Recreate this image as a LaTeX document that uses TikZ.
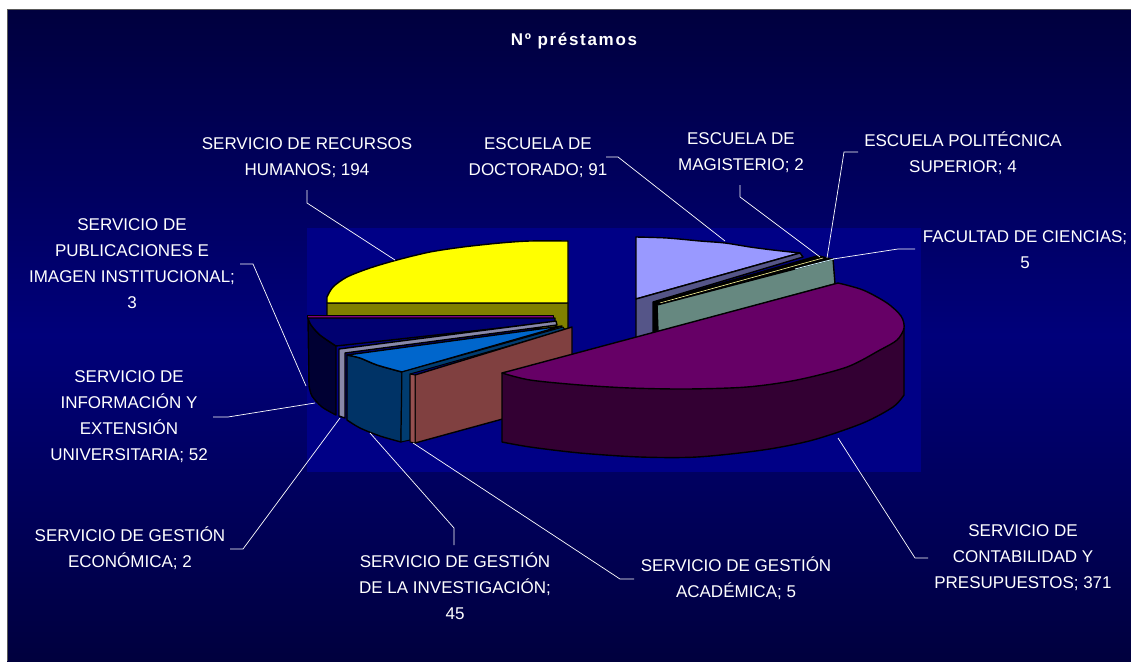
\documentclass[tikz,border=0pt]{standalone}
\usepackage{fontspec}
\setmainfont{Liberation Sans}
\newfontfamily\titlefont[LetterSpace=10]{Liberation Sans}

\definecolor{panelTop}{RGB}{0,0,62}
\definecolor{panelMid}{RGB}{0,0,122}
\definecolor{plotBg}{RGB}{0,0,134}
\definecolor{yelTop}{RGB}{255,255,0}
\definecolor{yelSide}{RGB}{128,128,0}
\definecolor{pubCol}{RGB}{128,0,128}
\definecolor{infTop}{RGB}{0,0,112}
\definecolor{infSide}{RGB}{0,0,51}
\definecolor{ecoCol}{RGB}{136,136,170}
\definecolor{invTop}{RGB}{0,102,204}
\definecolor{invSide}{RGB}{0,51,102}
\definecolor{invCut}{RGB}{0,60,112}
\definecolor{acaCol}{RGB}{128,64,64}
\definecolor{acaEdge}{RGB}{150,80,80}
\definecolor{conTop}{RGB}{102,0,102}
\definecolor{conSide}{RGB}{51,0,51}
\definecolor{docTop}{RGB}{153,153,255}
\definecolor{docCut}{RGB}{85,85,136}
\definecolor{cieCol}{RGB}{102,136,128}

\tikzset{
  lbl/.style={text=white, align=center, inner sep=0pt, font=\fontsize{17}{26}\selectfont},
  leader/.style={draw=white, line width=0.7pt},
  face/.style={draw=black, line width=1.4pt, line join=round},
}

\begin{document}
\begin{tikzpicture}[x=1pt,y=-1pt]
\useasboundingbox (0,0) rectangle (1131,661);
% background
\fill[white] (0,0) rectangle (1131,661);
\shade[top color=panelTop, bottom color=panelTop, middle color=panelMid] (7,10) rectangle (1131,661);
\draw[gray!70!black, line width=1pt] (7,661) -- (7,10) -- (1131,10);
\fill[plotBg] (307,228) rectangle (921,472);

\node[text=white, inner sep=0pt, font=\titlefont\bfseries\fontsize{17}{20}\selectfont] (title) at (574,41) {Nº préstamos};

% back slices
\draw[face, fill=yelSide] (327,303) -- (568,303) -- (568,330) -- (327,318) -- cycle;
\draw[face, fill=yelTop] (327,303) -- plot[smooth] coordinates {(327,297) (333,287) (347,277) (370,268) (397,260) (430,252) (463,247) (500,243) (530,241) (568,241)} -- (568,303) -- cycle;

\draw[face, fill=docTop] (636,299) -- (636,237) -- plot[smooth] coordinates {(636,237) (667,238) (700,241) (725,243) (750,247) (773,250) (800,253)} -- cycle;
\draw[face, fill=docCut] (636,299) -- (800,253) -- (803,257) -- (653,302) -- (653,340) -- (636,340) -- cycle;
\fill[black] (653,302) -- (818,255) -- (834,259) -- (657,305) -- (657,340) -- (653,340) -- cycle;
\draw[yellow!40, line width=0.6pt] (660,303) -- (823,258);
\draw[face, fill=cieCol] (657,305) -- (833,259) -- (835,284) -- (658,332) -- cycle;
\draw[cyan!20, line width=0.8pt] (795,269) -- (834,259);

% left group
\draw[face, line width=1pt, fill=pubCol] (307,315) -- (553,315) -- (553,318) -- (307,318) -- cycle;
\draw[face, fill=infSide] (308,318) -- (309,386) -- plot[smooth] coordinates {(309,386) (312,396) (322,407) (336,415)} -- (336,346) -- plot[smooth] coordinates {(336,346) (320,335) (311,325) (308,318)} -- cycle;
\draw[face, fill=infTop] (308,318) -- (555,318) -- (555,322) -- (336,346) -- plot[smooth] coordinates {(336,346) (320,335) (311,325) (308,318)} -- cycle;
\draw[face, fill=ecoCol] (339,349) -- (556,321) -- (557,325) -- (345,353) -- (345,418) -- (339,416) -- cycle;
\draw[face, fill=invSide] (347,355) -- (347,420) -- plot[smooth] coordinates {(347,420) (360,428) (380,436) (401,442)} -- (402,372) -- plot[smooth] coordinates {(402,372) (377,365) (360,358) (347,355)} -- cycle;
\draw[face, fill=invTop] (347,355) -- (562,326) -- (402,372) -- plot[smooth] coordinates {(402,372) (377,365) (360,358) (347,355)} -- cycle;
\draw[face, line width=1pt, fill=invCut] (402,372) -- (563,327) -- (565,330) -- (410,374) -- (410,440) -- (401,442) -- cycle;
\draw[face, fill=acaCol] (415,375) -- (572,327) -- (572,400) -- (415,443) -- cycle;
\draw[face, line width=1pt, fill=acaEdge] (410,374) -- (415,375) -- (415,443) -- (410,442) -- cycle;

% front slice
\draw[face, fill=conSide] (502,373) -- (502,442) -- plot[smooth] coordinates {(502,442) (530,447) (580,453) (640,457) (697,457) (763,450) (813,440) (863,423) (893,407) (904,395)} -- (904,328) -- cycle;
\draw[face, fill=conTop] (502,373) -- plot[smooth] coordinates {(838,283) (863,290) (887,303) (901,316) (904,328) (897,340) (880,350) (847,367) (797,380) (747,387) (687,389) (630,388) (580,385) (530,380) (502,373)} -- cycle;

% labels
\node[lbl] (hum) at (307,158) {SERVICIO DE RECURSOS\\HUMANOS; 194};
\node[lbl] (doc) at (538,158) {ESCUELA DE\\DOCTORADO; 91};
\node[lbl] (mag) at (741,153) {ESCUELA DE\\MAGISTERIO; 2};
\node[lbl] (pol) at (963,153) {ESCUELA POLITÉCNICA\\SUPERIOR; 4};
\node[lbl] (cie) at (1025,250) {FACULTAD DE CIENCIAS;\\5};
\node[lbl] (pub) at (132,264) {SERVICIO DE\\PUBLICACIONES E\\IMAGEN INSTITUCIONAL;\\3};
\node[lbl] (inf) at (129,417) {SERVICIO DE\\INFORMACIÓN Y\\EXTENSIÓN\\UNIVERSITARIA; 52};
\node[lbl] (eco) at (130,548) {SERVICIO DE GESTIÓN\\ECONÓMICA; 2};
\node[lbl] (inv) at (455,586) {SERVICIO DE GESTIÓN\\DE LA INVESTIGACIÓN;\\45};
\node[lbl] (aca) at (736,578) {SERVICIO DE GESTIÓN\\ACADÉMICA; 5};
\node[lbl] (con) at (1023,558) {SERVICIO DE\\CONTABILIDAD Y\\PRESUPUESTOS; 371};

% leader lines
\coordinate (hum-s) at (307,190); \coordinate (hum-k) at (307,203); \coordinate (hum-e) at (395,260);
\coordinate (doc-s) at (606,157); \coordinate (doc-k) at (618,157); \coordinate (doc-e) at (725,241);
\coordinate (mag-s) at (740,185); \coordinate (mag-k) at (740,197); \coordinate (mag-e) at (820,257);
\coordinate (pol-s) at (858,152); \coordinate (pol-k) at (844,152); \coordinate (pol-e) at (827,258);
\coordinate (cie-s) at (915,249); \coordinate (cie-k) at (898,249); \coordinate (cie-e) at (833,259);
\coordinate (pub-s) at (240,264); \coordinate (pub-k) at (253,264); \coordinate (pub-e) at (306,386);
\coordinate (inf-s) at (213,417); \coordinate (inf-k) at (228,417); \coordinate (inf-e) at (315,403);
\coordinate (eco-s) at (230,549); \coordinate (eco-k) at (243,549); \coordinate (eco-e) at (340,418);
\coordinate (inv-s) at (454,545); \coordinate (inv-k) at (454,528); \coordinate (inv-e) at (370,433);
\coordinate (aca-s) at (634,579); \coordinate (aca-k) at (620,579); \coordinate (aca-e) at (413,443);
\coordinate (con-s) at (928,558); \coordinate (con-k) at (915,558); \coordinate (con-e) at (838,438);
\foreach \s in {hum,doc,mag,pol,cie,pub,inf,eco,inv,aca,con}
  \draw[leader] (\s-s) -- (\s-k) -- (\s-e);
\end{tikzpicture}
\end{document}
